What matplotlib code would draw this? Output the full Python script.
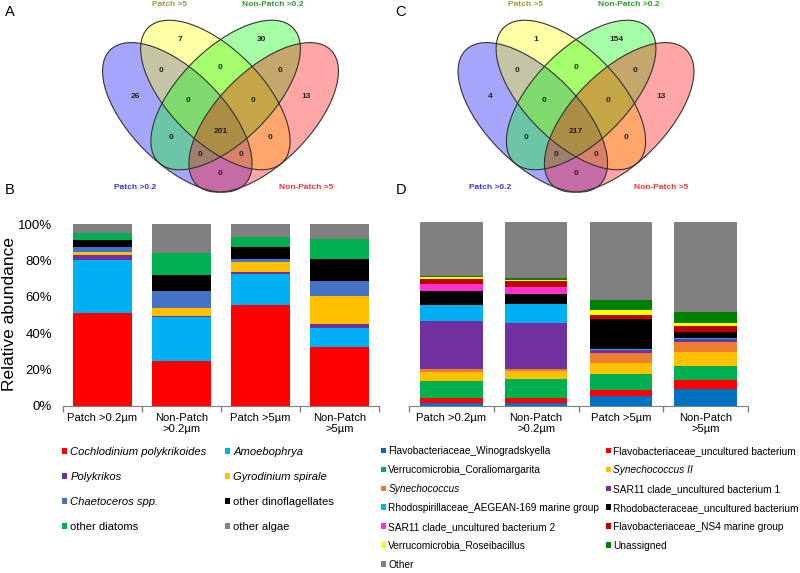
import numpy as np
import matplotlib
matplotlib.use('Agg')
import matplotlib.pyplot as plt
from matplotlib.patches import Ellipse

plt.rcParams['font.family'] = ['Liberation Sans', 'DejaVu Sans']

W, H = 800, 573
##################################################

# Venn data (A: eukaryotes, C: bacteria)
set_names = ['Patch >0.2', 'Patch >5', 'Non-Patch >0.2', 'Non-Patch >5']
set_fill = ['blue', 'yellow', 'lime', 'red']
set_text_col = ['#3535ee', '#9b9b3c', '#2f9a2f', '#ee3535']
regions = ['Y', 'G', 'B', 'R', 'BY', 'YG', 'GR', 'BYG', 'YGR', 'BG', 'BYGR', 'YR', 'BGR', 'BYR', 'BR']
counts_A = [7, 30, 26, 13, 0, 0, 0, 0, 0, 0, 201, 0, 0, 0, 0]
counts_C = [1, 154, 4, 13, 0, 0, 0, 0, 0, 0, 217, 0, 0, 0, 0]

# Bar data (B: eukaryotes, D: bacteria), percent
samples = ['Patch >0.2µm', 'Non-Patch\n>0.2µm', 'Patch >5µm', 'Non-Patch\n>5µm']

euk_names = ['Cochlodinium polykrikoides', 'Amoebophrya', 'Polykrikos', 'Gyrodinium spirale',
             'Chaetoceros spp.', 'other dinoflagellates', 'other diatoms', 'other algae']
euk_italic = [True, True, True, True, True, False, False, False]
euk_colors = ['#ff0000', '#00b0f0', '#7030a0', '#ffc000', '#4472c4', '#000000', '#00b050', '#808080']
cochlodinium = [51.0, 25.0, 55.4, 32.3]
amoebophrya = [29.4, 23.9, 17.4, 10.8]
polykrikos = [2.7, 0.7, 0.7, 1.8]
gyrodinium = [1.5, 4.6, 5.7, 15.6]
chaetoceros = [2.7, 9.0, 1.7, 8.3]
other_dinos = [3.9, 8.8, 6.8, 12.1]
other_diatoms = [4.2, 12.3, 5.3, 11.2]
other_algae = [4.6, 15.7, 7.0, 7.9]
euk_values = [cochlodinium, amoebophrya, polykrikos, gyrodinium,
              chaetoceros, other_dinos, other_diatoms, other_algae]

bac_names = ['Flavobacteriaceae_Winogradskyella', 'Flavobacteriaceae_uncultured bacterium',
             'Verrucomicrobia_Coraliomargarita', 'Synechococcus II', 'Synechococcus',
             'SAR11 clade_uncultured bacterium 1', 'Rhodospirillaceae_AEGEAN-169 marine group',
             'Rhodobacteraceae_uncultured bacterium', 'SAR11 clade_uncultured bacterium 2',
             'Flavobacteriaceae_NS4 marine group', 'Verrucomicrobia_Roseibacillus',
             'Unassigned', 'Other']
bac_italic = [False, False, False, True, True, False, False, False, False, False, False, False, False]
bac_colors = ['#0070c0', '#ff0000', '#00b050', '#ffc000', '#ed7d31', '#7030a0', '#00b0f0',
              '#000000', '#ff33cc', '#c00000', '#ffff00', '#008000', '#808080']
winogradskyella = [1.8, 1.8, 5.4, 9.4]
flavo_uncult = [2.5, 2.5, 3.3, 4.9]
coraliomargarita = [9.4, 10.3, 8.7, 7.3]
synechococcus_ii = [4.7, 4.5, 5.8, 7.8]
synechococcus = [1.6, 0.9, 5.6, 5.4]
sar11_1 = [26.1, 25.4, 1.8, 1.8]
aegean169 = [9.1, 10.2, 0.5, 0.5]
rhodobacteraceae = [7.4, 5.1, 16.0, 3.3]
sar11_2 = [3.8, 4.0, 0.0, 0.0]
ns4 = [2.5, 3.6, 2.7, 3.1]
roseibacillus = [1.3, 0.5, 2.4, 1.8]
unassigned = [0.7, 0.7, 5.3, 6.0]
other = [29.1, 30.5, 42.5, 48.7]
bac_values = [winogradskyella, flavo_uncult, coraliomargarita, synechococcus_ii, synechococcus,
              sar11_1, aegean169, rhodobacteraceae, sar11_2, ns4, roseibacillus, unassigned, other]
##################################################

# layout of the venn (VennDiagram-like units)
ELL_CENTERS = [(0.332, 0.483), (0.48, 0.57), (0.52, 0.57), (0.668, 0.483)]
ELL_ANGLES = [-45, -45, 45, 45]
ELL_W, ELL_H = 0.74, 0.36
REGION_POS = [(0.342, 0.787), (0.658, 0.787), (0.167, 0.566), (0.833, 0.566),
              (0.27, 0.667), (0.5, 0.678), (0.73, 0.667), (0.374, 0.548), (0.626, 0.548),
              (0.307, 0.404), (0.5, 0.427), (0.693, 0.404), (0.422, 0.337), (0.578, 0.337),
              (0.5, 0.265)]
NAME_POS = [(0.166, 0.209), (0.302, 0.924), (0.704, 0.924), (0.832, 0.209)]
SCALE = 257.0

fig = plt.figure(figsize=(W / 100, H / 100), dpi=100)


def px_axes(left, top, right, bottom):
    return fig.add_axes([left / W, 1 - bottom / H, (right - left) / W, (bottom - top) / H])


def draw_venn(cx, counts):
    ax = px_axes(cx - 150, 0, cx + 150, 212)
    ax.set_xlim(0.5 - 150 / SCALE, 0.5 + 150 / SCALE)
    ax.set_ylim(0.57 - (212 - 95) / SCALE, 0.57 + 95 / SCALE)
    ax.axis('off')
    for c, a, col in zip(ELL_CENTERS, ELL_ANGLES, set_fill):
        ax.add_patch(Ellipse(c, ELL_W, ELL_H, angle=a, facecolor=col, alpha=0.35, edgecolor='none'))
    for c, a in zip(ELL_CENTERS, ELL_ANGLES):
        ax.add_patch(Ellipse(c, ELL_W, ELL_H, angle=a, facecolor='none', edgecolor='#333333', lw=0.8))
    for (x, y), n in zip(REGION_POS, counts):
        ax.text(x, y, str(n), ha='center', va='center', fontsize=6, fontweight='bold', color='#222222')
    for (x, y), name, col in zip(NAME_POS, set_names, set_text_col):
        ax.text(x, y, name, ha='center', va='center', fontsize=6, fontweight='bold', color=col,
                clip_on=False)


def draw_bars(ax, values, colors, names, width):
    x = np.arange(len(samples))
    bottom = np.zeros(len(samples))
    bars = []
    for vals, col, name in zip(values, colors, names):
        v = np.array(vals) / 100.0
        bars.append(ax.bar(x, v, width, bottom=bottom, color=col, label=name, linewidth=0))
        bottom += v
    ax.set_xlim(-0.5, len(samples) - 0.5)
    ax.set_ylim(0, 1)
    ax.set_xticks(x)
    ax.set_xticklabels(samples, fontsize=8.1, linespacing=1.1)
    ax.set_xticks(np.arange(-0.5, len(samples)), minor=True)
    ax.tick_params(axis='x', which='major', length=0, pad=5)
    ax.tick_params(axis='x', which='minor', length=4, color='#808080', width=1)
    for s in ['top', 'right', 'left']:
        ax.spines[s].set_visible(False)
    ax.spines['bottom'].set_color('#808080')
    return bars


def split_legend(handles, labels, italic, xs, y_top, fontsize, spacing):
    for col, x in enumerate(xs):
        idx = list(range(col, len(handles), 2))
        leg = fig.legend([handles[i] for i in idx], [labels[i] for i in idx],
                         loc='upper left', bbox_to_anchor=(x / W, 1 - y_top / H),
                         frameon=False, fontsize=fontsize, handlelength=0.45, handleheight=0.45,
                         handletextpad=0.28, labelspacing=spacing, borderpad=0, borderaxespad=0)
        for i, t in zip(idx, leg.get_texts()):
            if italic[i]:
                t.set_fontstyle('italic')


# Venn diagrams
draw_venn(220.5, counts_A)
draw_venn(576, counts_C)

# B
axB = px_axes(63, 224.3, 379, 406)
barsB = draw_bars(axB, euk_values, euk_colors, euk_names, 0.75)
axB.set_yticks(np.arange(0, 1.01, 0.2))
axB.set_yticklabels(['%d%%' % v for v in range(0, 101, 20)])
axB.tick_params(axis='y', length=0, labelsize=9.5, pad=8)
fig.text(10 / W, 1 - 314 / H, 'Relative abundance', rotation=90, ha='center', va='center', fontsize=12.5)

# D
axD = px_axes(409, 222.3, 748, 406)
barsD = draw_bars(axD, bac_values, bac_colors, bac_names, 0.74)
axD.set_yticks([])

# legends
split_legend(barsB, euk_names, euk_italic, [62, 225], 447, 8.1, 1.32)
split_legend(barsD, bac_names, bac_italic, [381, 606], 446, 7.3, 0.88)

# panel letters
for s, x, y in [('A', 10, 12), ('B', 10, 190), ('C', 401, 12), ('D', 401, 190)]:
    fig.text(x / W, 1 - y / H, s, ha='center', va='center', fontsize=10.5)

fig.savefig('out.png', dpi=100)
